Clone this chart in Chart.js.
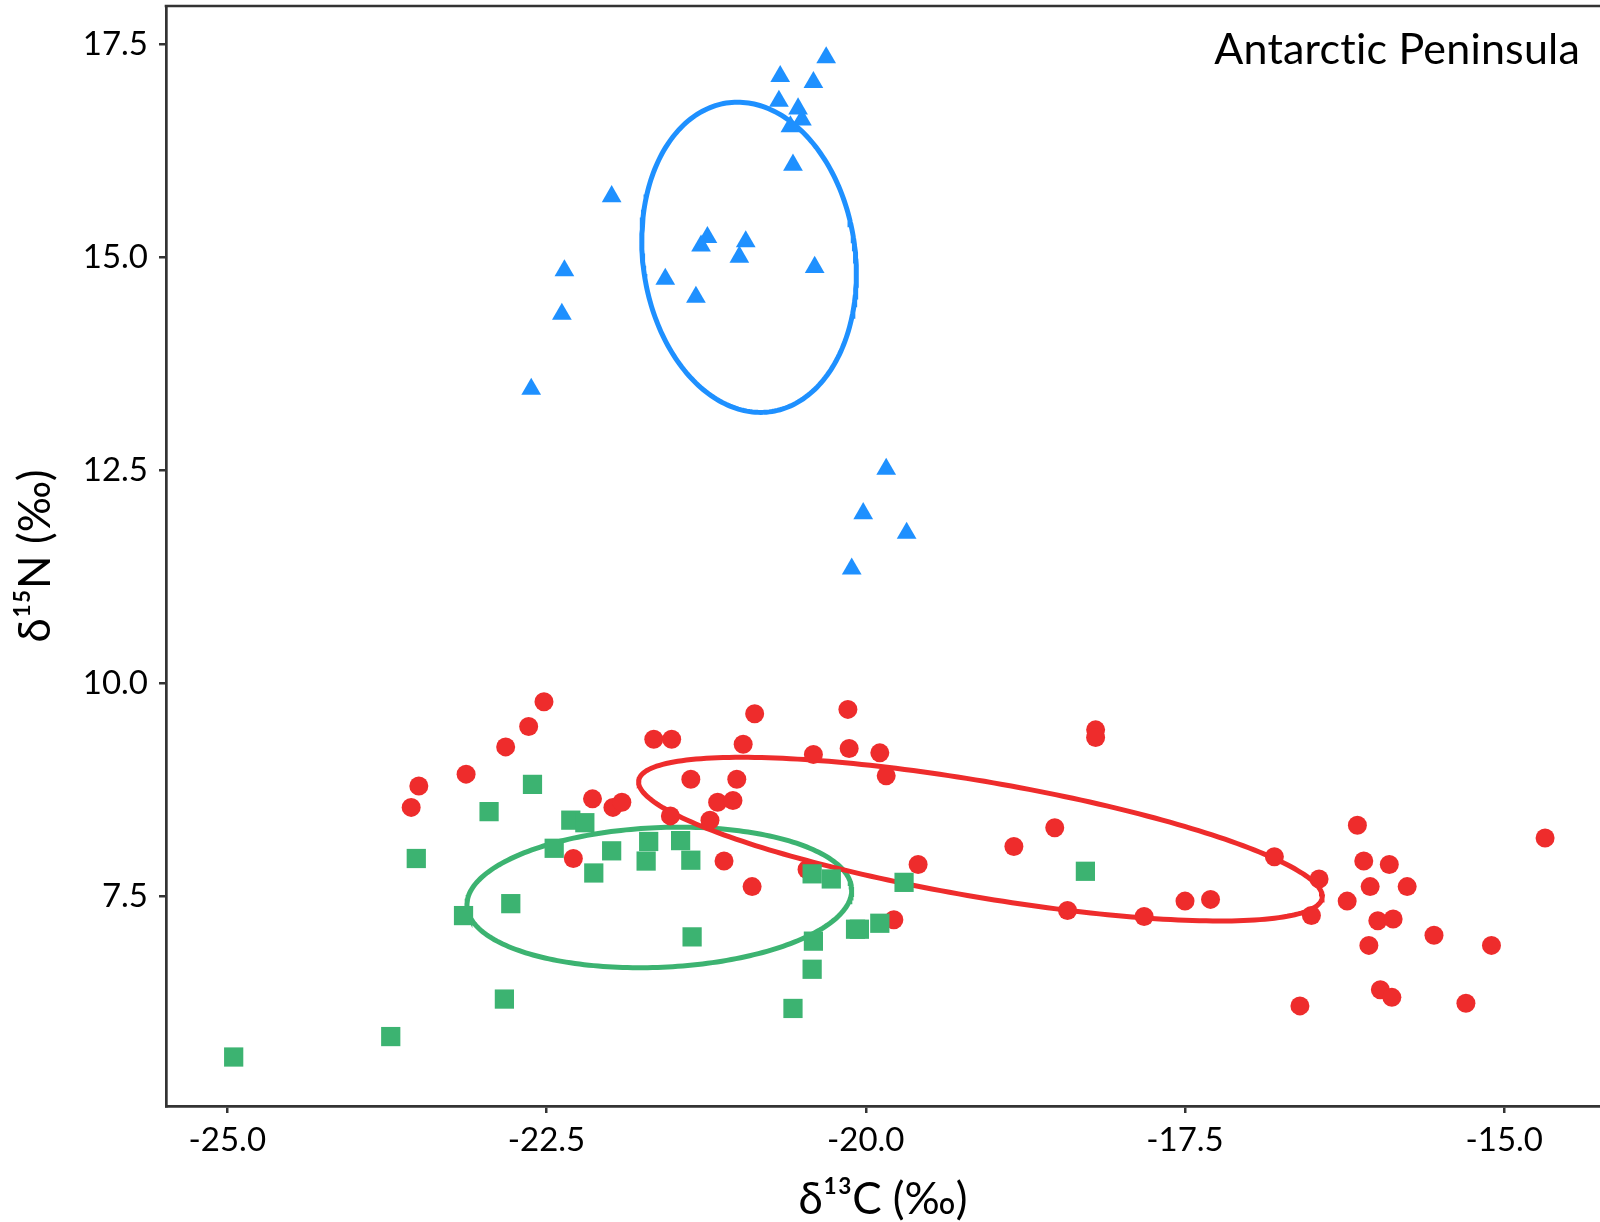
<!DOCTYPE html>
<html>
<head>
<meta charset="utf-8">
<script src="https://cdn.jsdelivr.net/npm/chart.js@4/dist/chart.umd.min.js"></script>
<style>
  html, body { margin: 0; padding: 0; background: #fff; }
  #wrap { width: 1600px; height: 1222px; }
</style>
</head>
<body>
<div id="wrap"><canvas id="isoChart" width="1600" height="1222"></canvas></div>
<script>
// --- Data (d13C, d15N) ---
const redX = [-22.52, -22.64, -22.82, -23.13, -23.50, -23.56, -22.14, -21.98, -21.91, -22.29,
  -20.87, -20.14, -21.66, -21.52, -20.96, -20.41, -20.13, -19.89, -19.84, -21.37,
  -21.01, -21.16, -21.04, -21.53, -21.22, -21.11, -20.89, -20.46, -19.59, -19.78,
  -18.84, -18.20, -18.20, -18.52, -16.80, -16.45, -16.51, -18.42, -17.82, -17.50,
  -17.30, -16.15, -16.10, -15.90, -16.05, -15.76, -16.23, -15.99, -15.87, -16.06,
  -15.55, -15.10, -14.68, -15.97, -15.88, -16.60, -15.30];
const redY = [9.78, 9.49, 9.25, 8.93, 8.79, 8.54, 8.64, 8.54, 8.60, 7.94,
  9.64, 9.69, 9.34, 9.34, 9.28, 9.16, 9.23, 9.18, 8.91, 8.87,
  8.87, 8.60, 8.62, 8.44, 8.39, 7.91, 7.61, 7.81, 7.87, 7.22,
  8.08, 9.45, 9.36, 8.30, 7.96, 7.70, 7.27, 7.33, 7.26, 7.44,
  7.46, 8.33, 7.91, 7.87, 7.61, 7.61, 7.44, 7.21, 7.23, 6.92,
  7.04, 6.92, 8.18, 6.40, 6.31, 6.21, 6.24];

const greenX = [-24.95, -23.72, -22.83, -23.15, -22.78, -23.52, -22.95, -22.61, -22.31, -22.20,
  -22.44, -22.13, -21.99, -21.70, -21.72, -21.45, -21.37, -21.36, -20.42, -20.27,
  -19.70, -20.08, -20.05, -19.89, -20.41, -20.42, -20.57, -18.28];
const greenY = [5.61, 5.85, 6.29, 7.27, 7.41, 7.94, 8.49, 8.81, 8.39, 8.36,
  8.06, 7.77, 8.03, 8.14, 7.91, 8.15, 7.92, 7.02, 7.76, 7.70,
  7.66, 7.11, 7.11, 7.18, 6.97, 6.64, 6.18, 7.79];

const blueX = [-20.31, -20.67, -20.41, -20.68, -20.53, -20.50, -20.59, -20.57, -21.99, -21.24,
  -21.29, -20.94, -20.99, -22.36, -20.40, -21.57, -21.33, -22.38, -22.62, -19.84,
  -20.02, -19.68, -20.11];
const blueY = [17.34, 17.12, 17.05, 16.83, 16.74, 16.61, 16.53, 16.08, 15.71, 15.23,
  15.13, 15.18, 15.00, 14.84, 14.88, 14.74, 14.53, 14.33, 13.45, 12.51,
  11.99, 11.76, 11.34];

const xTicks = [-25.0, -22.5, -20.0, -17.5, -15.0];
const yTicks = [7.5, 10.0, 12.5, 15.0, 17.5];

const RED = '#EE2C2C';
const GREEN = '#3CB371';
const BLUE = '#1E90FF';
const AXIS = '#333333';
const FONT = 'Lato, "Noto Sans", sans-serif';

const toPoints = (xs, ys) => xs.map((x, i) => ({ x: x, y: ys[i] }));

// small-sample corrected standard ellipse (SEAc) from a group's covariance
function stdEllipse(xs, ys) {
    const n = xs.length;
    const mx = xs.reduce((a, b) => a + b, 0) / n;
    const my = ys.reduce((a, b) => a + b, 0) / n;
    let sxx = 0, syy = 0, sxy = 0;
    for (let i = 0; i < n; i++) {
        sxx += (xs[i] - mx) * (xs[i] - mx);
        syy += (ys[i] - my) * (ys[i] - my);
        sxy += (xs[i] - mx) * (ys[i] - my);
    }
    sxx /= (n - 2); syy /= (n - 2); sxy /= (n - 2);
    const tr = sxx + syy, det = sxx * syy - sxy * sxy;
    const disc = Math.sqrt(Math.max(tr * tr / 4 - det, 0));
    const a = Math.sqrt(tr / 2 + disc), b = Math.sqrt(Math.max(tr / 2 - disc, 0));
    const th = 0.5 * Math.atan2(2 * sxy, sxx - syy);
    const pts = [];
    for (let k = 0; k <= 240; k++) {
        const t = (k / 240) * Math.PI * 2;
        pts.push({
            x: mx + a * Math.cos(t) * Math.cos(th) - b * Math.sin(t) * Math.sin(th),
            y: my + a * Math.cos(t) * Math.sin(th) + b * Math.sin(t) * Math.cos(th)
        });
    }
    return pts;
}

const ellipseSet = (xs, ys, color) => ({
    data: stdEllipse(xs, ys),
    showLine: true,
    borderColor: color,
    borderWidth: 5,
    pointRadius: 0,
    tension: 0,
    order: 5
});

// top frame line + panel label
const framePlugin = {
    id: 'framePlugin',
    afterDraw(chart) {
        const { ctx, chartArea } = chart;
        ctx.save();
        ctx.strokeStyle = AXIS;
        ctx.lineWidth = 2.7;
        ctx.beginPath();
        ctx.moveTo(chartArea.left - 1.3, chartArea.top);
        ctx.lineTo(chart.width, chartArea.top);
        ctx.stroke();
        ctx.fillStyle = '#000';
        ctx.font = '43px ' + FONT;
        ctx.letterSpacing = '0.2px'; // keeps "ti" from turning into a ligature
        ctx.textAlign = 'right';
        ctx.textBaseline = 'alphabetic';
        ctx.fillText('Antarctic Peninsula', 1580, 64);
        ctx.restore();
    }
};

document.addEventListener('DOMContentLoaded', function() {
    const ctx = document.getElementById('isoChart');

    new Chart(ctx, {
        type: 'scatter',
        data: {
            datasets: [
                ellipseSet(blueX, blueY, BLUE),
                ellipseSet(redX, redY, RED),
                ellipseSet(greenX, greenY, GREEN),
                {
                    label: 'red',
                    data: toPoints(redX, redY),
                    pointStyle: 'circle',
                    pointRadius: 9.5,
                    pointBorderWidth: 0,
                    backgroundColor: RED,
                    order: 3
                },
                {
                    label: 'green',
                    data: toPoints(greenX, greenY),
                    pointStyle: 'rect',
                    pointRadius: 13.6,
                    pointBorderWidth: 0,
                    backgroundColor: GREEN,
                    order: 2
                },
                {
                    label: 'blue',
                    data: toPoints(blueX, blueY),
                    pointStyle: 'triangle',
                    pointRadius: 11.4,
                    pointBorderWidth: 0,
                    backgroundColor: BLUE,
                    order: 1
                }
            ]
        },
        options: {
            responsive: false,
            animation: false,
            devicePixelRatio: 1,
            layout: { autoPadding: false, padding: { top: 6, right: 0, left: 0, bottom: 0 } },
            plugins: {
                legend: { display: false },
                tooltip: { enabled: false }
            },
            scales: {
                x: {
                    type: 'linear',
                    min: -25.48,
                    max: -14.25,
                    afterFit: (s) => { s.height = 116; },
                    afterBuildTicks: (s) => { s.ticks = xTicks.map(v => ({ value: v })); },
                    ticks: {
                        color: '#000',
                        font: { family: FONT, size: 33 },
                        padding: 8,
                        maxRotation: 0,
                        callback: (v) => Number(v).toFixed(1)
                    },
                    grid: { drawOnChartArea: false, tickLength: 7, color: AXIS, lineWidth: 2.5 },
                    border: { display: true, color: AXIS, width: 2.7 },
                    title: {
                        display: true,
                        text: 'δ¹³C (‰)',
                        color: '#000',
                        font: { family: FONT, size: 44, lineHeight: 1 },
                        padding: { top: 0, bottom: 0 }
                    }
                },
                y: {
                    type: 'linear',
                    min: 5.035,
                    max: 17.946,
                    afterFit: (s) => { s.width = 166; s.paddingTop = 0; s.paddingBottom = 0; },
                    afterBuildTicks: (s) => { s.ticks = yTicks.map(v => ({ value: v })); },
                    ticks: {
                        color: '#000',
                        font: { family: FONT, size: 33, lineHeight: 0.1 },
                        padding: 11,
                        callback: (v) => Number(v).toFixed(1)
                    },
                    grid: { drawOnChartArea: false, tickLength: 7, color: AXIS, lineWidth: 2.5 },
                    border: { display: true, color: AXIS, width: 2.7 },
                    title: {
                        display: true,
                        text: 'δ¹⁵N (‰)',
                        color: '#000',
                        font: { family: FONT, size: 44, lineHeight: 1 },
                        padding: { top: 14, bottom: 0 }
                    }
                }
            }
        },
        plugins: [framePlugin]
    });
});
</script>
</body>
</html>
